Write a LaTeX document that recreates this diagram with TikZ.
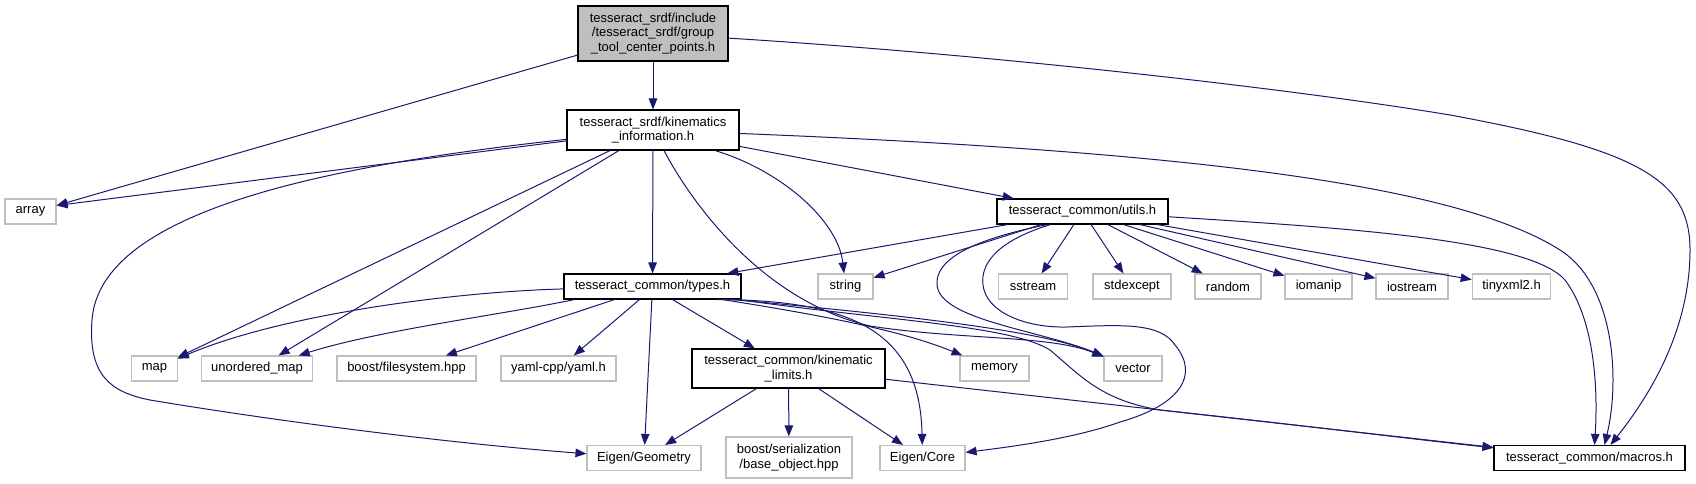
\documentclass[tikz,border=0pt]{standalone}
\usepackage{fontspec}
\setmainfont{Liberation Sans}
\usetikzlibrary{arrows.meta}

\definecolor{edgeblue}{HTML}{191970}
\definecolor{grey75}{HTML}{BFBFBF}

\begin{document}
\begin{tikzpicture}[
    x=1pt, y=-1pt,
    hdr/.style={rectangle, draw, line width=1.1pt, inner xsep=10pt, inner ysep=2pt, minimum height=25pt, align=center, font={\fontsize{13}{14.5}\selectfont}},
    cur/.style={hdr, draw=black, fill=grey75},
    doc/.style={hdr, draw=black},
    ext/.style={hdr, draw=grey75},
    dep/.style={draw=edgeblue, line width=1pt, -{Triangle[length=11pt, width=8.5pt]}}
  ]
  \useasboundingbox (0,0) rectangle (1696,484);

  % rank 0 and 1
  \node[cur, minimum width=150pt, minimum height=55pt] (gtcp) at (653,33.5) {tesseract\_srdf/include\\/tesseract\_srdf/group\\\_tool\_center\_points.h};
  \node[doc, minimum width=172pt, minimum height=40pt] (kin) at (653,130) {tesseract\_srdf/kinematics\\\_information.h};

  % rank 2
  \node[ext, minimum width=51pt] (array) at (30.5,211.5) {array};
  \node[doc, minimum width=171pt] (utils) at (1082.5,211.5) {tesseract\_common/utils.h};

  % rank 3
  \node[doc, minimum width=177pt] (types) at (652.5,286.5) {tesseract\_common/types.h};
  \node[ext, minimum width=55pt] (string) at (845.5,286.5) {string};
  \node[ext, minimum width=69pt] (sstream) at (1033,286.5) {sstream};
  \node[ext, minimum width=78pt] (stdexcept) at (1132,286.5) {stdexcept};
  \node[ext, minimum width=66pt] (random) at (1228,286.5) {random};
  \node[ext, minimum width=67pt] (iomanip) at (1318.5,286.5) {iomanip};
  \node[ext, minimum width=72pt] (iostream) at (1412,286.5) {iostream};
  \node[ext, minimum width=77pt] (tinyxml) at (1511.5,286.5) {tinyxml2.h};

  % rank 4
  \node[ext, minimum width=45pt] (map) at (154.5,368.5) {map};
  \node[ext, minimum width=110pt] (umap) at (257,368.5) {unordered\_map};
  \node[ext, minimum width=139pt] (bfs) at (406.5,368.5) {boost/filesystem.hpp};
  \node[ext, minimum width=115pt] (yaml) at (558.5,368.5) {yaml-cpp/yaml.h};
  \node[doc, minimum width=193pt, minimum height=39pt] (klimits) at (788.5,368.5) {tesseract\_common/kinematic\\\_limits.h};
  \node[ext, minimum width=69pt] (memory) at (994.5,368.5) {memory};
  \node[ext, minimum width=58pt] (vector) at (1133,368.5) {vector};

  % rank 5
  \node[ext, minimum width=114pt] (geom) at (644,458) {Eigen/Geometry};
  \node[ext, minimum width=126pt, minimum height=41pt] (bser) at (789,457.5) {boost/serialization\\/base\_object.hpp};
  \node[ext, minimum width=85pt] (core) at (922.5,458) {Eigen/Core};
  \node[doc, minimum width=191pt] (macros) at (1589.5,458) {tesseract\_common/macros.h};

  % group_tool_center_points.h
  \draw[dep] (gtcp) -- (kin);
  \draw[dep] (gtcp) -- ([yshift=6pt]array.east);
  \draw[dep] (gtcp) .. controls (1000,55) and (1300,90) .. (1450,115)
    .. controls (1640,150) and (1690,180) .. (1690,250)
    .. controls (1690,330) and (1650,395) .. ([xshift=21pt]macros.north);

  % kinematics_information.h
  \draw[dep] (kin) -- ([yshift=6pt]array.east);
  \draw[dep] (kin) .. controls (330,165) and (100,210) .. (92,320)
    .. controls (88,375) and (110,392) .. (150,400)
    .. controls (300,425) and (470,445) .. (geom);
  \draw[dep] (kin) -- (map);
  \draw[dep] (kin) -- (umap);
  \draw[dep] (kin) -- (types);
  \draw[dep] ([xshift=11pt]kin.south) .. controls (690,200) and (760,300) .. (870,326)
    .. controls (960,340) and (1050,335) .. (vector);
  \draw[dep] ([xshift=62pt]kin.south) .. controls (780,170) and (838,220) .. (string);
  \draw[dep] (kin) -- (utils);
  \draw[dep] (kin) .. controls (1150,150) and (1450,180) .. (1560,250)
    .. controls (1615,285) and (1620,380) .. ([xshift=15pt]macros.north);

  % utils.h
  \draw[dep] (utils) -- (types);
  \draw[dep] (utils) -- (string);
  \draw[dep] (utils) -- (sstream);
  \draw[dep] (utils) -- (stdexcept);
  \draw[dep] (utils) -- (random);
  \draw[dep] (utils) -- (iomanip);
  \draw[dep] (utils) -- (iostream);
  \draw[dep] (utils) -- (tinyxml);
  \draw[dep] ([xshift=-35pt]utils.south) .. controls (970,240) and (935,260) .. (937,285)
    .. controls (940,320) and (1040,330) .. (vector);
  \draw[dep] ([xshift=-32pt]utils.south) .. controls (1000,240) and (980,262) .. (983,285)
    .. controls (986,312) and (1025,328) .. (1067,327)
    .. controls (1120,325) and (1160,322) .. (1175,345)
    .. controls (1200,375) and (1180,405) .. (1120,422)
    .. controls (1070,440) and (1000,448) .. (core);
  \draw[dep] (utils) .. controls (1350,228) and (1530,240) .. (1565,280)
    .. controls (1595,320) and (1598,390) .. ([xshift=5pt]macros.north);

  % types.h
  \draw[dep] (types) .. controls (450,292) and (280,315) .. (map);
  \draw[dep] ([xshift=-78pt]types.south) .. controls (500,315) and (380,330) .. (umap);
  \draw[dep] ([xshift=-38pt]types.south) -- (bfs);
  \draw[dep] ([xshift=-13pt]types.south) -- (yaml);
  \draw[dep] (types) -- (geom);
  \draw[dep] ([xshift=20pt]types.south) -- (klimits);
  \draw[dep] ([xshift=64pt]types.south) .. controls (850,300) and (920,330) .. (core);
  \draw[dep] ([xshift=70pt]types.south) .. controls (820,315) and (900,330) .. (memory);
  \draw[dep] ([xshift=80pt]types.south) .. controls (900,315) and (1040,330) .. (vector);
  \draw[dep] ([xshift=86pt]types.south) .. controls (880,320) and (1010,325) .. (1050,350)
    .. controls (1080,375) and (1100,400) .. (1160,410)
    .. controls (1300,425) and (1420,440) .. (macros);

  % kinematic_limits.h
  \draw[dep] ([xshift=-32pt]klimits.south) -- (geom);
  \draw[dep] (klimits) -- (bser);
  \draw[dep] ([xshift=30pt]klimits.south) -- (core);
  \draw[dep] (klimits) -- (macros);
\end{tikzpicture}
\end{document}
